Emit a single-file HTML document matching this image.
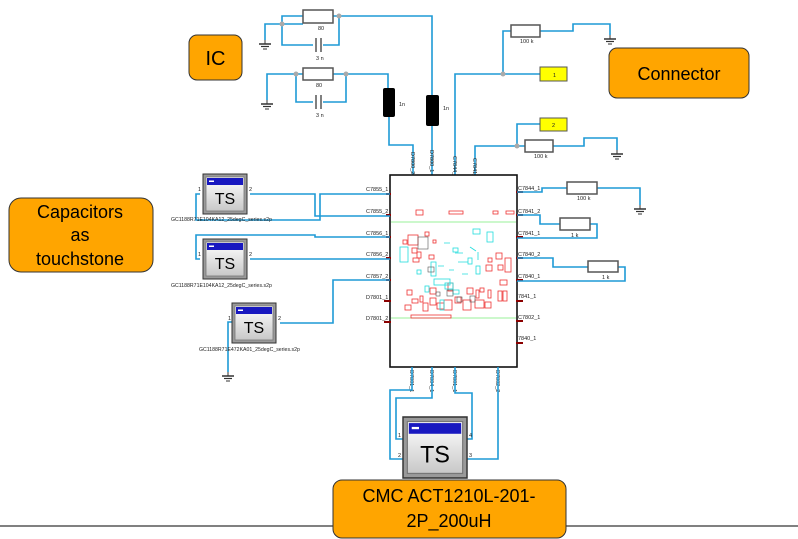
<!DOCTYPE html>
<html><head><meta charset="utf-8"><style>
html,body{margin:0;padding:0;background:#fff;}
svg{display:block;}
.w{fill:none;stroke:#1e9ad6;stroke-width:1.6;}
.t{font-family:"Liberation Sans",sans-serif;font-size:5.5px;fill:#222;}
.c{font-family:"Liberation Sans",sans-serif;fill:#000;text-anchor:middle;}
.r{fill:#fff;stroke:#555;stroke-width:1.5;}
.p{fill:#8b0000;}
</style></head><body>
<svg width="798" height="539" viewBox="0 0 798 539" xmlns="http://www.w3.org/2000/svg">
<defs>
<linearGradient id="g" x1="0" y1="0" x2="0" y2="1"><stop offset="0" stop-color="#fff"/><stop offset="1" stop-color="#c8c8c8"/></linearGradient>
<g id="ts">
<rect x="0" y="0" width="44" height="40" fill="#9a9a9a" stroke="#333" stroke-width="1"/>
<rect x="3" y="3" width="38" height="34" fill="url(#g)" stroke="#777" stroke-width="0.8"/>
<rect x="4" y="4" width="36" height="7" fill="#1818c0"/>
<rect x="6" y="6.5" width="5" height="1.5" fill="#fff"/>
<text x="22" y="30" class="c" font-size="16">TS</text>
</g>
<g id="gnd"><line x1="0" y1="0" x2="0" y2="4" stroke="#333"/><line x1="-6" y1="4" x2="6" y2="4" stroke="#333" stroke-width="1.5"/><line x1="-4" y1="6.5" x2="4" y2="6.5" stroke="#333" stroke-width="1.2"/><line x1="-2" y1="9" x2="2" y2="9" stroke="#333"/></g>
</defs>

<line x1="0" y1="526" x2="798" y2="526" stroke="#000" stroke-width="1"/>

<path class="w" d="M265,40 V24 H303 M333,16 H432 V95 M282,24 V45 H313 M323,45 H339 V16 M303,16 H282 V24"/>
<rect class="r" x="303" y="10" width="30" height="13"/>
<text x="318" y="30" class="t" fill="#00a" font-size="4">80</text>
<line x1="316" y1="38" x2="316" y2="52" stroke="#555" stroke-width="1.5"/><line x1="321" y1="38" x2="321" y2="52" stroke="#555" stroke-width="1.5"/>
<text x="316" y="60" class="t" font-size="4">3 n</text>
<circle cx="282" cy="24" r="2.5" fill="#aaa"/><circle cx="339" cy="16" r="2.5" fill="#aaa"/>
<use href="#gnd" x="265" y="40"/>
<path class="w" d="M267,100 V74 H303 M333,74 H388 V88 M296,74 V102 H313 M323,102 H346 V74"/>
<rect class="r" x="303" y="68" width="30" height="12"/>
<text x="316" y="87" class="t" font-size="4">80</text>
<line x1="316" y1="95" x2="316" y2="109" stroke="#555" stroke-width="1.5"/><line x1="321" y1="95" x2="321" y2="109" stroke="#555" stroke-width="1.5"/>
<text x="316" y="117" class="t" font-size="4">3 n</text>
<circle cx="296" cy="74" r="2.5" fill="#aaa"/><circle cx="346" cy="74" r="2.5" fill="#aaa"/>
<use href="#gnd" x="267" y="100"/>
<rect x="383" y="88" width="12" height="29" rx="2" fill="#000"/>
<text x="399" y="106" class="t" font-size="4">1n</text>
<path class="w" d="M389,117 V145 H413 V175"/>
<rect x="426" y="95" width="13" height="31" rx="2" fill="#000"/>
<text x="443" y="110" class="t" font-size="4">1n</text>
<path class="w" d="M432,126 V175"/>

<path class="w" d="M455,175 V74 H540 M503,74 V31 H511 M540,31 H573 V24 H610 V35"/>
<rect class="r" x="511" y="25" width="29" height="12"/>
<text x="520" y="43" class="t" fill="#00a" font-size="4">100 k</text>
<circle cx="503" cy="74" r="2.5" fill="#aaa"/>
<use href="#gnd" x="610" y="35"/>
<rect x="540" y="67" width="27" height="14" fill="#ffff00" stroke="#555"/>
<text x="553" y="77" class="t" font-size="5">1</text>
<path class="w" d="M475,175 V146 H525 M517,146 V124 H540 M553,146 H584 V138 H617 V150"/>
<rect class="r" x="525" y="140" width="28" height="12"/>
<text x="534" y="158" class="t" fill="#00a" font-size="4">100 k</text>
<circle cx="517" cy="146" r="2.5" fill="#aaa"/>
<use href="#gnd" x="617" y="150"/>
<rect x="540" y="118" width="27" height="13" fill="#ffff00" stroke="#555"/>
<text x="552" y="127" class="t" font-size="5">2</text>

<g class="t" font-size="5">
<text transform="translate(411,152) rotate(90)">D7800_2</text>
<text transform="translate(430,150) rotate(90)">D7800_1</text>
<text transform="translate(453,156) rotate(90)">C7844_1</text>
<text transform="translate(473,158) rotate(90)">C7841_1</text>
</g>

<rect x="390" y="175" width="127" height="192" fill="#fff" stroke="#111" stroke-width="1.6"/>
<line x1="391" y1="222" x2="516" y2="222" stroke="#7e7" stroke-width="0.8"/>
<line x1="391" y1="318" x2="516" y2="318" stroke="#7e7" stroke-width="0.8"/>
<g fill="none" stroke="#e33" stroke-width="0.8">
<rect x="416" y="210" width="7" height="5"/><rect x="449" y="211" width="14" height="3"/><rect x="493" y="211" width="5" height="3"/><rect x="506" y="211" width="8" height="3"/>
<rect x="408" y="235" width="10" height="10"/><rect x="412" y="248" width="5" height="5"/><rect x="417" y="252" width="4" height="6"/>
<rect x="423" y="303" width="5" height="8"/><rect x="430" y="298" width="6" height="7"/><rect x="437" y="303" width="7" height="6"/><rect x="444" y="300" width="8" height="10"/>
<rect x="455" y="297" width="6" height="6"/><rect x="463" y="300" width="8" height="10"/><rect x="475" y="300" width="9" height="8"/><rect x="485" y="302" width="6" height="6"/>
<rect x="498" y="291" width="4" height="10"/><rect x="503" y="291" width="4" height="10"/><rect x="405" y="305" width="6" height="5"/><rect x="411" y="315" width="40" height="3"/>
<rect x="496" y="253" width="6" height="6"/><rect x="505" y="258" width="6" height="14"/><rect x="486" y="265" width="6" height="6"/><rect x="500" y="280" width="7" height="5"/>
<rect x="413" y="258" width="6" height="4"/><rect x="429" y="255" width="5" height="4"/>
<rect x="430" y="288" width="6" height="6"/><rect x="448" y="283" width="5" height="8"/><rect x="467" y="288" width="6" height="6"/>
<rect x="403" y="240" width="4" height="4"/><rect x="420" y="296" width="3" height="6"/><rect x="476" y="290" width="3" height="8"/><rect x="488" y="290" width="3" height="8"/>
<rect x="407" y="290" width="5" height="5"/><rect x="412" y="299" width="6" height="4"/><rect x="480" y="288" width="4" height="4"/><rect x="498" y="265" width="5" height="5"/>
<rect x="425" y="232" width="4" height="4"/><rect x="433" y="240" width="3" height="3"/><rect x="488" y="258" width="4" height="4"/>
</g>
<g fill="none" stroke="#2dd" stroke-width="0.8">
<rect x="400" y="247" width="8" height="15"/><rect x="473" y="229" width="7" height="5"/><rect x="431" y="262" width="5" height="14"/>
<rect x="434" y="279" width="16" height="6"/><rect x="445" y="283" width="8" height="6"/><rect x="453" y="248" width="5" height="4"/>
<rect x="440" y="300" width="4" height="10"/><rect x="468" y="258" width="4" height="6"/><rect x="487" y="232" width="6" height="10"/><rect x="417" y="270" width="4" height="4"/>
<path d="M444,243 h6 M455,253 h8 M470,247 l6,4 M458,262 h10 M449,270 h5 M462,274 h6 M478,252 v8 M438,266 h6"/>
<rect x="476" y="266" width="4" height="8"/><rect x="425" y="286" width="4" height="6"/><rect x="453" y="290" width="6" height="4"/>
</g>
<g fill="none" stroke="#555" stroke-width="0.6">
<rect x="418" y="237" width="10" height="12"/><rect x="428" y="267" width="6" height="5"/><rect x="447" y="290" width="6" height="6"/><rect x="457" y="297" width="5" height="5"/>
<rect x="470" y="296" width="5" height="6"/><rect x="436" y="292" width="4" height="4"/>
</g>

<g class="p">
<rect x="386" y="193" width="5" height="2"/><rect x="386" y="214" width="5" height="2"/><rect x="386" y="236" width="5" height="2"/>
<rect x="386" y="257" width="5" height="2"/><rect x="386" y="279" width="5" height="2"/><rect x="384" y="300" width="7" height="2"/><rect x="384" y="321" width="7" height="2"/>
<rect x="516" y="191" width="7" height="2"/><rect x="516" y="214" width="7" height="2"/><rect x="516" y="236" width="7" height="2"/><rect x="516" y="257" width="7" height="2"/><rect x="516" y="279" width="7" height="2"/>
<rect x="516" y="300" width="7" height="2"/><rect x="516" y="320" width="7" height="2"/><rect x="516" y="342" width="7" height="2"/>
</g>
<g class="t" font-size="5.5">
<text x="366" y="191">C7855_1</text><text x="366" y="213">C7855_2</text><text x="366" y="235">C7856_1</text>
<text x="366" y="256">C7856_2</text><text x="366" y="278">C7857_2</text><text x="366" y="299">D7801_1</text><text x="366" y="320">D7801_2</text>
<text x="518" y="190">C7844_1</text><text x="518" y="213">C7841_2</text><text x="518" y="235">C7841_1</text><text x="518" y="256">C7840_2</text>
<text x="518" y="278">C7840_1</text><text x="518" y="298">7841_1</text><text x="518" y="319">C7802_1</text><text x="518" y="340">7840_1</text>
</g>

<path class="w" d="M250,194 H315 V216 H390 M200,194 H196 V220 H320 V194 H390"/>
<path class="w" d="M200,259 H196 V235 H315 V237 H390 M250,259 H390"/>
<path class="w" d="M232,322 H228 V372 M280,323 H333 V280 H390"/>
<use href="#gnd" x="228" y="372"/>
<use href="#ts" x="203" y="174"/>
<use href="#ts" x="203" y="239"/>
<use href="#ts" x="232" y="303"/>
<g class="t" font-size="4.5">
<text x="198" y="191">1</text><text x="249" y="191">2</text>
<text x="198" y="256">1</text><text x="249" y="256">2</text>
<text x="228" y="320">1</text><text x="278" y="320">2</text>
<text x="171" y="221" font-size="5.2">GC1188R71E104KA12_25degC_series.s2p</text>
<text x="171" y="287" font-size="5.2">GC1188R71E104KA12_25degC_series.s2p</text>
<text x="199" y="351" font-size="5.2">GC1188R71E472KA01_25degC_series.s2p</text>
</g>

<path class="w" d="M517,192 H542 V188 H567 M597,188 H640 V205"/>
<rect class="r" x="567" y="182" width="30" height="12"/>
<text x="577" y="200" class="t" fill="#00a" font-size="4">100 k</text>
<use href="#gnd" x="640" y="205"/>
<path class="w" d="M517,215 H540 V224 H560 M590,224 H597 V238 H517"/>
<rect class="r" x="560" y="218" width="30" height="12"/>
<text x="571" y="237" class="t" font-size="4">1 k</text>
<path class="w" d="M517,258 H553 V267 H588 M618,267 H625 V281 H517"/>
<rect class="r" x="588" y="261" width="30" height="11"/>
<text x="602" y="279" class="t" font-size="4">1 k</text>

<g class="t" font-size="5">
<text transform="translate(410,370) rotate(90)">D7801_1</text>
<text transform="translate(430,370) rotate(90)">D7804_1</text>
<text transform="translate(453,370) rotate(90)">D7801_1</text>
<text transform="translate(496,370) rotate(90)">D7802_2</text>
</g>
<path class="w" d="M412,367 V390 H390 V459 H403 M432,367 V398 H396 V439 H403 M455,367 V393 H472 V439 H467 M498,367 V459 H467"/>
<g transform="translate(403,417) scale(1.455,1.525)"><use href="#ts"/></g>
<g class="t" font-size="4.5"><text x="398" y="437">1</text><text x="398" y="457">2</text><text x="469" y="437">4</text><text x="469" y="457">3</text></g>

<rect x="189" y="35" width="53" height="45" rx="8" fill="#ffa500" stroke="#333" stroke-width="1"/>
<text x="215.5" y="65" class="c" font-size="20">IC</text>
<rect x="609" y="48" width="140" height="50" rx="8" fill="#ffa500" stroke="#333" stroke-width="1"/>
<text x="679" y="80" class="c" font-size="18">Connector</text>
<rect x="9" y="198" width="144" height="74" rx="12" fill="#ffa500" stroke="#333" stroke-width="1"/>
<g class="c" font-size="18"><text x="80" y="218">Capacitors</text><text x="80" y="241">as</text><text x="80" y="265">touchstone</text></g>
<rect x="333" y="480" width="233" height="58" rx="9" fill="#ffa500" stroke="#333" stroke-width="1"/>
<g class="c" font-size="18"><text x="449" y="502">CMC ACT1210L-201-</text><text x="449" y="527">2P_200uH</text></g>
</svg>
</body></html>
